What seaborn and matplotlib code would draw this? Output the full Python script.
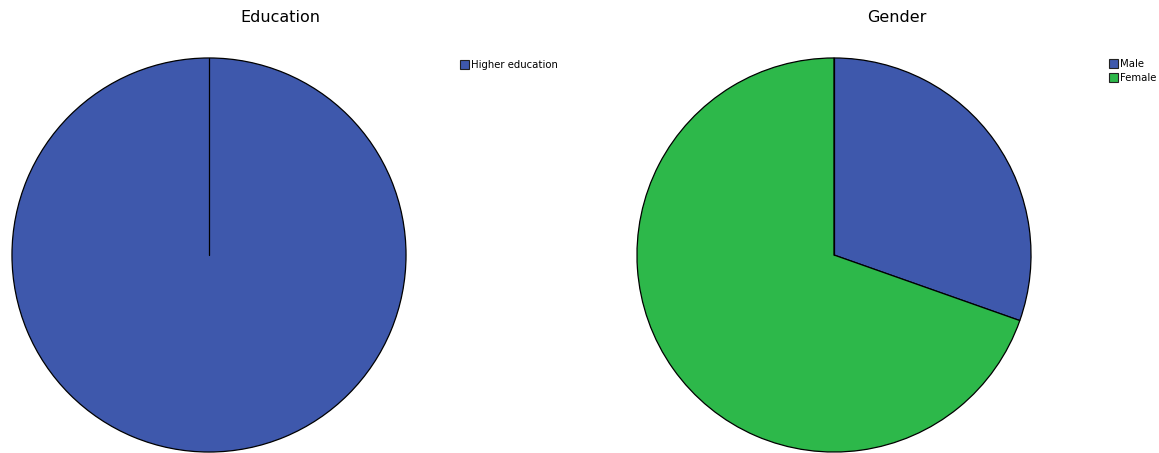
import matplotlib
matplotlib.use("Agg")
import numpy as np
import matplotlib.pyplot as plt
from matplotlib.patches import Patch
import seaborn as sns

# Pie data
edu_labels = ["Higher education"]
edu_values = [100.0]
gender_labels = ["Male", "Female"]
gender_values = [30.4, 69.6]

blue = "#3E58AC"
green = "#2DB84A"
start_angle = 90

sns.set_theme(style="white")
plt.rcParams["font.family"] = ["DejaVu Sans"]

W, H = 1159, 453
fig = plt.figure(figsize=(W / 100, H / 100), dpi=100)


def px_axes(x0, y0, w, h):
    return fig.add_axes([x0 / W, 1 - (y0 + h) / H, w / W, h / H])


def draw_pie(ax, values, colors):
    ax.pie(values, colors=colors, startangle=start_angle, counterclock=False, radius=1.0,
           wedgeprops=dict(edgecolor="black", linewidth=0.9))
    # start edge of the first slice (a full-circle wedge omits it)
    a = np.deg2rad(start_angle)
    ax.plot([0, np.cos(a)], [0, np.sin(a)], color="black", linewidth=0.9)
    ax.set_xlim(-1.01, 1.01)
    ax.set_ylim(-1.01, 1.01)
    ax.set_aspect("equal")
    ax.axis("off")


ax1 = px_axes(10, 56, 398, 398)
draw_pie(ax1, edu_values, [blue])
ax2 = px_axes(635, 56, 398, 398)
draw_pie(ax2, gender_values, [blue, green])

fig.text(280 / W, 1 - 18 / H, "Education", ha="center", va="center", fontsize=11.5, color="black")
fig.text(897 / W, 1 - 18 / H, "Gender", ha="center", va="center", fontsize=11.5, color="black")


def legend_at(labels, colors, x, y):
    handles = [Patch(facecolor=c, edgecolor="#222222", linewidth=0.8, label=l)
               for l, c in zip(labels, colors)]
    leg = fig.legend(handles=handles, loc="upper left", bbox_to_anchor=(x / W, 1 - y / H),
                     frameon=False, fontsize=7.3, handlelength=0.9, handleheight=0.9,
                     handletextpad=0.15, labelspacing=0.4, borderpad=0, borderaxespad=0)
    for t in leg.get_texts():
        t.set_color("black")


legend_at(edu_labels, [blue], 460, 60)
legend_at(gender_labels, [blue, green], 1109, 59)

fig.savefig("out.png", dpi=100, facecolor="white")
